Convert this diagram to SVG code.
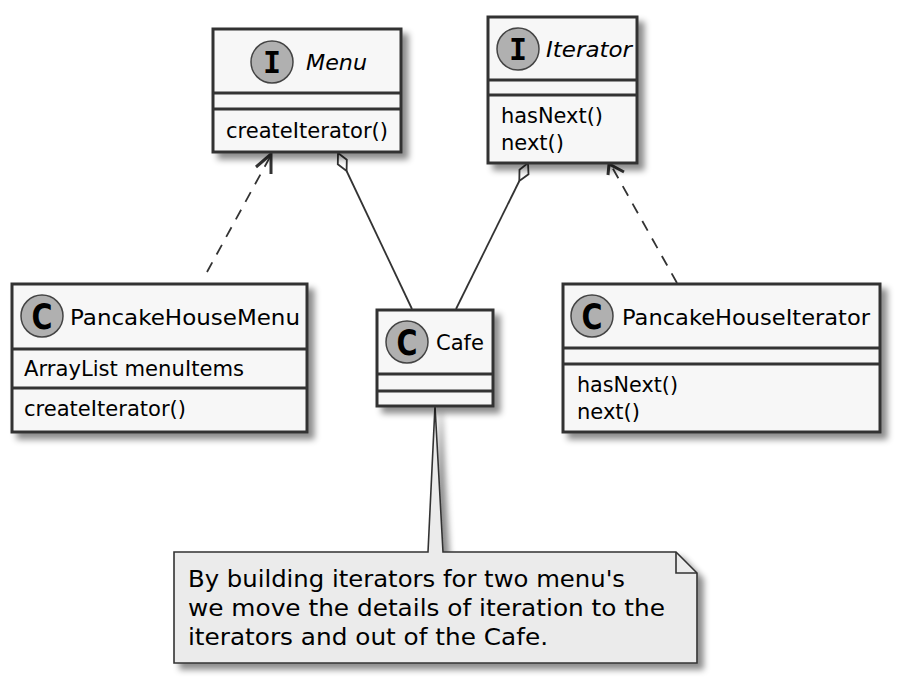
<svg xmlns="http://www.w3.org/2000/svg" width="899" height="685" viewBox="0 0 899 685">
<defs>
<style>
.box{fill:#F7F7F7;stroke:#333333;stroke-width:3}
.div{stroke:#333333;stroke-width:3}
.ico{fill:#B0B0B0;stroke:#444444;stroke-width:1.5}
.t{font-family:"DejaVu Sans","Liberation Sans",sans-serif;font-size:21px;fill:#000}
.ti{font-family:"DejaVu Sans","Liberation Sans",sans-serif;font-size:21px;font-style:italic;fill:#000}
.li{font-family:"DejaVu Sans Mono","Liberation Mono",monospace;font-size:30px;font-weight:bold;fill:#000}
.lc{font-family:"DejaVu Sans","Liberation Sans",sans-serif;font-size:36px;font-weight:bold;fill:#000}
.nt{font-family:"DejaVu Sans","Liberation Sans",sans-serif;font-size:23px;fill:#000}
.ln{fill:none;stroke:#333333;stroke-width:1.8}
.dash{stroke-dasharray:11,9}
.ah{fill:none;stroke:#333333;stroke-width:3;stroke-linejoin:miter}
.dia{fill:#FFFFFF;stroke:#333333;stroke-width:1.8}
</style>
<filter id="sh" x="-10%" y="-10%" width="130%" height="130%">
<feGaussianBlur in="SourceAlpha" stdDeviation="3"/>
<feOffset dx="6" dy="6" result="b"/>
<feFlood flood-color="#000" flood-opacity="0.45"/>
<feComposite in2="b" operator="in"/>
<feMerge><feMergeNode/><feMergeNode in="SourceGraphic"/></feMerge>
</filter>
</defs>
<rect width="899" height="685" fill="#FFFFFF"/>

<g id="connectors">
<line class="ln dash" x1="207" y1="272" x2="270" y2="157"/>
<polyline class="ah" points="256,167 271,154 271,174"/>
<line class="ln" x1="346.6" y1="171" x2="412" y2="309"/>
<polygon class="dia" points="338,153 346.8,159.8 346.6,171 337.8,164.2"/>
<line class="ln" x1="519.3" y1="181" x2="456" y2="309"/>
<polygon class="dia" points="528,163 528.5,174.3 519.3,181 519.5,169.7"/>
<line class="ln dash" x1="677" y1="283" x2="612" y2="167"/>
<polyline class="ah" points="608,175 609,164 624,172"/>
</g>

<g id="note">
<polygon points="174,552 428,552 435,406 443,552 676,552 697,573 697,663 174,663" fill="#EBEBEB" stroke="#333333" stroke-width="1.6" filter="url(#sh)"/>
<polyline points="676,552 676,573 697,573" fill="none" stroke="#333333" stroke-width="1.6"/>
<text class="nt" x="188" y="587" textLength="437" lengthAdjust="spacingAndGlyphs">By building iterators for two menu's</text>
<text class="nt" x="188" y="616" textLength="477" lengthAdjust="spacingAndGlyphs">we move the details of iteration to the</text>
<text class="nt" x="188" y="645" textLength="360" lengthAdjust="spacingAndGlyphs">iterators and out of the Cafe.</text>
</g>

<g id="Menu">
<rect class="box" x="213" y="29" width="188" height="123" filter="url(#sh)"/>
<line class="div" x1="213" y1="93" x2="401" y2="93"/>
<line class="div" x1="213" y1="109" x2="401" y2="109"/>
<circle class="ico" cx="272" cy="62" r="21"/>
<text class="li" x="272" y="73" text-anchor="middle">I</text>
<text class="ti" x="306" y="70" textLength="61" lengthAdjust="spacingAndGlyphs">Menu</text>
<text class="t" x="226" y="138" textLength="162" lengthAdjust="spacingAndGlyphs">createIterator()</text>
</g>

<g id="Iterator">
<rect class="box" x="488" y="17" width="149" height="146" filter="url(#sh)"/>
<line class="div" x1="488" y1="80" x2="637" y2="80"/>
<line class="div" x1="488" y1="95" x2="637" y2="95"/>
<circle class="ico" cx="518" cy="49" r="21"/>
<text class="li" x="518" y="60" text-anchor="middle">I</text>
<text class="ti" x="546" y="57" textLength="86" lengthAdjust="spacingAndGlyphs">Iterator</text>
<text class="t" x="501" y="123" textLength="102" lengthAdjust="spacingAndGlyphs">hasNext()</text>
<text class="t" x="501" y="150" textLength="63" lengthAdjust="spacingAndGlyphs">next()</text>
</g>

<g id="PancakeHouseMenu">
<rect class="box" x="12" y="284" width="295" height="148" filter="url(#sh)"/>
<line class="div" x1="12" y1="349" x2="307" y2="349"/>
<line class="div" x1="12" y1="388" x2="307" y2="388"/>
<circle class="ico" cx="42" cy="316" r="21"/>
<text class="lc" x="42" y="329" text-anchor="middle" textLength="21" lengthAdjust="spacingAndGlyphs">C</text>
<text class="t" x="70" y="325" textLength="230" lengthAdjust="spacingAndGlyphs">PancakeHouseMenu</text>
<text class="t" x="24" y="376" textLength="220" lengthAdjust="spacingAndGlyphs">ArrayList menuItems</text>
<text class="t" x="24" y="416" textLength="162" lengthAdjust="spacingAndGlyphs">createIterator()</text>
</g>

<g id="Cafe">
<rect class="box" x="377" y="310" width="116" height="96" filter="url(#sh)"/>
<line class="div" x1="377" y1="374" x2="493" y2="374"/>
<line class="div" x1="377" y1="391" x2="493" y2="391"/>
<circle class="ico" cx="407" cy="342" r="21"/>
<text class="lc" x="407" y="355" text-anchor="middle" textLength="21" lengthAdjust="spacingAndGlyphs">C</text>
<text class="t" x="436" y="350" textLength="48" lengthAdjust="spacingAndGlyphs">Cafe</text>
</g>

<g id="PancakeHouseIterator">
<rect class="box" x="563" y="284" width="317" height="148" filter="url(#sh)"/>
<line class="div" x1="563" y1="348" x2="880" y2="348"/>
<line class="div" x1="563" y1="364" x2="880" y2="364"/>
<circle class="ico" cx="592" cy="316" r="21"/>
<text class="lc" x="592" y="329" text-anchor="middle" textLength="21" lengthAdjust="spacingAndGlyphs">C</text>
<text class="t" x="622" y="325" textLength="248" lengthAdjust="spacingAndGlyphs">PancakeHouseIterator</text>
<text class="t" x="577" y="392" textLength="101" lengthAdjust="spacingAndGlyphs">hasNext()</text>
<text class="t" x="577" y="419" textLength="63" lengthAdjust="spacingAndGlyphs">next()</text>
</g>
</svg>
